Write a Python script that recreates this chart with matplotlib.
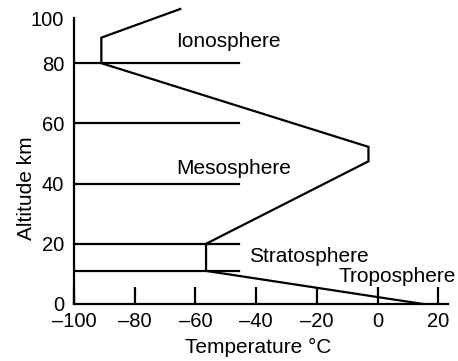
import numpy as np
import matplotlib
matplotlib.use("Agg")
import matplotlib.pyplot as plt

plt.rcParams['font.family'] = ['Liberation Sans', 'DejaVu Sans']

# temperature profile of the atmosphere (°C, km)
temp_c = [15, -56.5, -56.5, -3, -3, -91, -91, -65]
alt_km = [0, 11, 20, 47.4, 52.2, 80, 91.3, 104]

# layer boundaries drawn as horizontal lines
boundaries = [11, 20, 40, 60, 80]

x_ticks = [-100, -80, -60, -40, -20, 0, 20]
x_labels = ['–100', '–80', '–60', '–40', '–20', '0', '20']
y_ticks = [0, 20, 40, 60, 80, 100]

layer_names = ['Ionosphere', 'Mesosphere', 'Stratosphere', 'Troposphere']
layer_x = [-66.3, -66.2, -42.3, -12.9]
layer_y = [87.3, 43.1, 14.1, 7.4]


# the part above 80 km is squeezed a bit
def fwd(y):
    y = np.asarray(y, dtype=float)
    return np.where(y <= 80, y, 80 + 0.75 * (y - 80))


def inv(y):
    y = np.asarray(y, dtype=float)
    return np.where(y <= 80, y, 80 + (y - 80) / 0.75)


fig = plt.figure(figsize=(4.58, 3.61), dpi=100)
ax = fig.add_axes([0.1616, 0.1579, 0.8172, 0.7922])
ax.set_yscale('function', functions=(fwd, inv))

ax.plot(temp_c, alt_km, color='black', lw=1.6, clip_on=False,
        solid_joinstyle='miter')
for b in boundaries:
    ax.plot([-100, -45.5], [b, b], color='black', lw=1.6)

for name, tx, ty in zip(layer_names, layer_x, layer_y):
    ax.text(tx, ty, name, fontsize=15, ha='left', va='baseline')

ax.set_xlim(-100, 23.3)
ax.set_ylim(0, 100)

ax.spines['top'].set_visible(False)
ax.spines['right'].set_visible(False)
ax.spines['left'].set_linewidth(1.6)
ax.spines['bottom'].set_linewidth(1.6)

ax.set_xticks(x_ticks)
ax.set_xticklabels(x_labels)
ax.set_yticks(y_ticks)
ax.set_yticklabels([str(v) for v in y_ticks])
ax.tick_params(axis='x', direction='in', length=12.5, width=1.6,
               labelsize=14.5, pad=6)
ax.tick_params(axis='y', length=0, labelsize=14.5, pad=7)

ax.set_xlabel('Temperature °C', fontsize=15)
ax.set_ylabel('Altitude km', fontsize=15)
ax.xaxis.set_label_coords(0.493, -0.119)
ax.yaxis.set_label_coords(-0.102, 0.406)

fig.savefig('out.png', dpi=100)
